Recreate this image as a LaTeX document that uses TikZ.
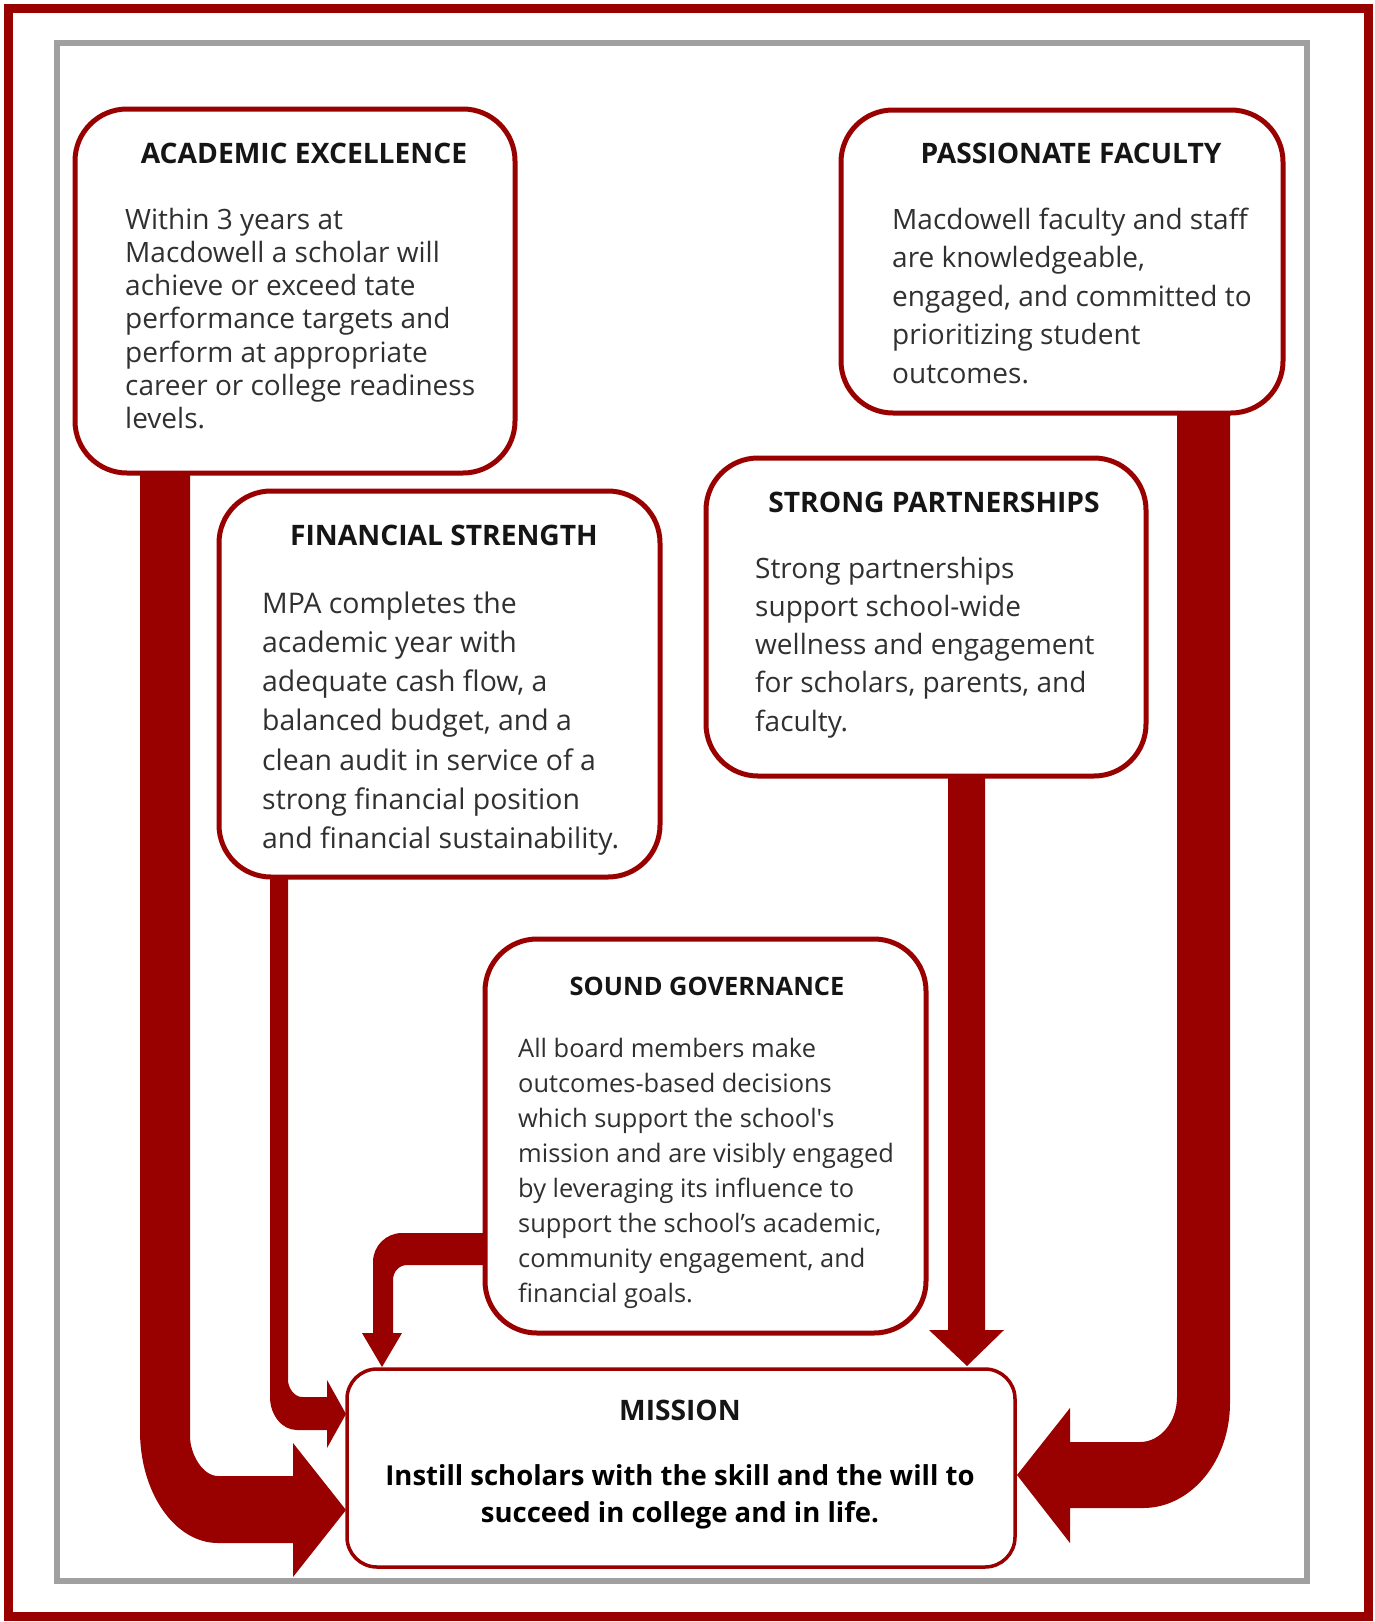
\documentclass[tikz,border=0pt]{standalone}
\usepackage{fontspec}
\setmainfont{Open Sans}
\definecolor{mpared}{HTML}{990000}
\definecolor{framegray}{HTML}{A0A0A0}
\definecolor{bodygray}{HTML}{303030}
\definecolor{titleblack}{HTML}{151515}
\begin{document}
\begin{tikzpicture}[x=1pt,y=-1pt,
  goalbox/.style={draw=mpared, line width=5pt, rounded corners=52pt, fill=white,
    inner sep=0pt, minimum width=#1},
  goaltitle/.style={anchor=base, inner sep=0pt, text=titleblack,
    font=\bfseries\fontsize{28.2}{33}\selectfont},
  goalbody/.style={anchor=base west, inner sep=0pt, text=bodygray,
    font=\fontsize{28}{#1}\selectfont},
  fatarrow/.style={fill=mpared, draw=none}]

\useasboundingbox (0,0) rectangle (1374,1622);
\fill[white] (0,0) rectangle (1374,1622);

% page frames
\draw[mpared, line width=9pt] (8.5,8.5) rectangle (1368,1616);
\draw[framegray, line width=6pt] (56.5,43) rectangle (1306.5,1580.5);

% goal boxes
\node[goalbox=440pt, minimum height=364pt] (acad) at (295,291) {};
\node[goalbox=442pt, minimum height=303pt] (fac) at (1062,261.5) {};
\node[goalbox=441pt, minimum height=386pt] (fin) at (439.5,684) {};
\node[goalbox=440pt, minimum height=318pt] (part) at (926,617) {};
\node[goalbox=441pt, minimum height=394pt] (gov) at (705.5,1136) {};
\node[goalbox=668pt, minimum height=198pt, line width=3.5pt, rounded corners=30pt] (mission) at (681,1468) {};

% titles
\node[goaltitle] (acadT) at (304,163) {ACADEMIC EXCELLENCE};
\node[goaltitle] (facT) at (1071,163) {PASSIONATE FACULTY};
\node[goaltitle] (finT) at (444,545) {FINANCIAL STRENGTH};
\node[goaltitle] (partT) at (934,512) {STRONG PARTNERSHIPS};
\node[goaltitle, font=\bfseries\fontsize{25.4}{30}\selectfont] (govT) at (707,995) {SOUND GOVERNANCE};
\node[goaltitle] (missionT) at (680,1420) {MISSION};

% descriptions
\node[goalbody=33.3pt] (acadB) at (125,229) {\parbox[t]{420pt}{\raggedright
  Within 3 years at\\
  Macdowell a scholar will\\
  achieve or exceed tate\\
  performance targets and\\
  perform at appropriate\\
  career or college readiness\\
  levels.}};
\node[goalbody=38.5pt] (facB) at (892,229) {\parbox[t]{420pt}{\raggedright
  Macdowell faculty and staff\\
  are knowledgeable,\\
  engaged, and committed to\\
  prioritizing student\\
  outcomes.}};
\node[goalbody=39.3pt, font=\fontsize{28.4}{39.3}\selectfont] (finB) at (262,613) {\parbox[t]{420pt}{\raggedright
  MPA completes the\\
  academic year with\\
  adequate cash flow, a\\
  balanced budget, and a\\
  clean audit in service of a\\
  strong financial position\\
  and financial sustainability.}};
\node[goalbody=38.3pt] (partB) at (755,578) {\parbox[t]{420pt}{\raggedright
  Strong partnerships\\
  support school-wide\\
  wellness and engagement\\
  for scholars, parents, and\\
  faculty.}};
\node[goalbody=35pt, font=\fontsize{25.4}{35}\selectfont] (govB) at (518,1057) {\parbox[t]{420pt}{\raggedright
  All board members make\\
  outcomes-based decisions\\
  which support the school\textquotesingle s\\
  mission and are visibly engaged\\
  by leveraging its influence to\\
  support the school’s academic,\\
  community engagement, and\\
  financial goals.}};
\node[anchor=base, inner sep=0pt, text=black, font=\bfseries\fontsize{27.5}{37}\selectfont]
  (missionB) at (680,1485) {\parbox[t]{650pt}{\centering
  Instill scholars with the skill and the will to\\
  succeed in college and in life.}};

% academic excellence -> mission
\fill[fatarrow] (140,471) -- (140,1431)
  .. controls (140,1492.8) and (174.9,1543) .. (218,1543)
  -- (293,1543) -- (293,1577) -- (346,1510) -- (293,1443) -- (293,1476) -- (218,1476)
  .. controls (202.5,1476) and (190,1453.9) .. (190,1436) -- (190,471) -- cycle;

% financial strength -> mission
\fill[fatarrow] (270,876) -- (270,1397)
  .. controls (270,1415.2) and (282.1,1430) .. (297,1430)
  -- (327,1430) -- (327,1448) -- (346,1414) -- (327,1380) -- (327,1397) -- (302,1397)
  .. controls (294.3,1397) and (288,1387.6) .. (288,1380) -- (288,876) -- cycle;

% sound governance -> mission
\fill[fatarrow] (484,1233) -- (402,1233)
  .. controls (386,1233) and (373,1246) .. (373,1262)
  -- (373,1333) -- (362,1333) -- (382,1367) -- (402,1333) -- (393,1333) -- (393,1280)
  .. controls (393,1271.7) and (399.3,1265) .. (407,1265) -- (484,1265) -- cycle;

% strong partnerships -> mission
\fill[fatarrow] (948,775) -- (948,1330) -- (929,1330) -- (967,1366) -- (1004,1330)
  -- (985,1330) -- (985,775) -- cycle;

% passionate faculty -> mission
\fill[fatarrow] (1177,412) -- (1177,1397)
  .. controls (1177,1421.8) and (1160.4,1442) .. (1140,1442)
  -- (1070,1442) -- (1070,1408) -- (1017,1475) -- (1070,1543) -- (1070,1508) -- (1143,1508)
  .. controls (1191,1508) and (1230,1461) .. (1230,1403) -- (1230,412) -- cycle;

\end{tikzpicture}
\end{document}
